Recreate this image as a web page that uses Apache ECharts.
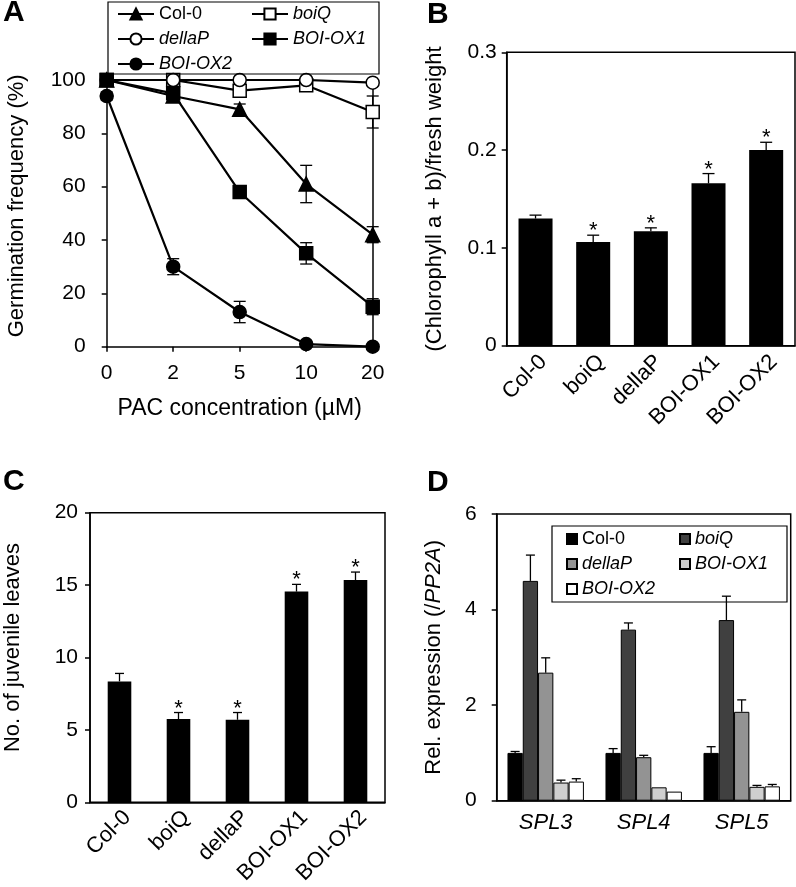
<!DOCTYPE html>
<html><head><meta charset="utf-8">
<script src="https://cdn.jsdelivr.net/npm/echarts@6/dist/echarts.min.js"></script>
<style>html,body{margin:0;padding:0;background:#fff}#c{width:796px;height:887px}</style>
</head><body><div id="c"></div>
<script>
const FONT = 'Liberation Sans, Arial, Helvetica, sans-serif';
// ---------- Panel A: germination ----------
const pacConc = ['0', '2', '5', '10', '20'];
const germCol0 = [100, 94, 89, 61, 42];
const germCol0Err = [0, 1.5, 2, 7, 3];
const germBoiQ = [100, 100, 96, 98, 88];
const germBoiQErr = [0, 0, 1.5, 1, 6];
const germDellaP = [100, 100, 100, 100, 99];
const germDellaPErr = [0, 0, 0, 0, 0];
const germOX1 = [100, 95, 58, 35, 15];
const germOX1Err = [0, 2, 2, 4, 3];
const germOX2 = [94, 30, 13, 1, 0];
const germOX2Err = [1.5, 3, 4, 0.5, 0];
// ---------- Panel B: chlorophyll ----------
const genotypes = ['Col-0', 'boiQ', 'dellaP', 'BOI-OX1', 'BOI-OX2'];
const chlValues = [0.130, 0.106, 0.117, 0.166, 0.200];
const chlErr = [0.0035, 0.007, 0.0035, 0.010, 0.008];
const chlSig = ['', '*', '*', '*', '*'];
// ---------- Panel C: juvenile leaves ----------
const leafValues = [8.35, 5.75, 5.7, 14.55, 15.35];
const leafErr = [0.55, 0.45, 0.5, 0.5, 0.55];
const leafSig = ['', '*', '*', '*', '*'];
// ---------- Panel D: expression ----------
const genes = ['SPL3', 'SPL4', 'SPL5'];
const exprCol0 = [1.0, 1.0, 1.0];
const exprCol0Err = [0.03, 0.09, 0.13];
const exprBoiQ = [4.6, 3.58, 3.78];
const exprBoiQErr = [0.54, 0.14, 0.5];
const exprDellaP = [2.68, 0.91, 1.86];
const exprDellaPErr = [0.31, 0.04, 0.25];
const exprOX1 = [0.38, 0.28, 0.29];
const exprOX1Err = [0.05, 0.01, 0.03];
const exprOX2 = [0.40, 0.19, 0.30];
const exprOX2Err = [0.06, 0, 0.04];

const italicNames = {'boiQ': 1, 'dellaP': 1, 'BOI-OX1': 1, 'BOI-OX2': 1};

function errTwoSided(vals, errs) {
  return vals.map((v, i) => errs[i] > 0 ? [i, Math.max(0, v - errs[i]), v + errs[i]] : null).filter(Boolean);
}
function errUp(vals, errs) {
  return vals.map((v, i) => [i, v, v + errs[i]]);
}
function renderTwoSided(cap) {
  return function (params, api) {
    const i = api.value(0);
    const p1 = api.coord([i, api.value(2)]);
    const p2 = api.coord([i, api.value(1)]);
    const s = {stroke: '#000', lineWidth: 1.3};
    return {type: 'group', children: [
      {type: 'line', shape: {x1: p1[0], y1: p1[1], x2: p2[0], y2: p2[1]}, style: s},
      {type: 'line', shape: {x1: p1[0] - cap, y1: p1[1], x2: p1[0] + cap, y2: p1[1]}, style: s},
      {type: 'line', shape: {x1: p2[0] - cap, y1: p2[1], x2: p2[0] + cap, y2: p2[1]}, style: s}
    ]};
  };
}
function renderUp(cap, sig, k, n, gap) {
  return function (params, api) {
    const i = api.value(0);
    const band = api.size([1, 0])[0];
    let x = api.coord([i, 0])[0];
    if (n) {
      const bw = band * (1 - gap) / n;
      x = x - band * (1 - gap) / 2 + bw * (k + 0.5);
    }
    const y0 = api.coord([i, api.value(1)])[1];
    const y1 = api.coord([i, api.value(2)])[1];
    const s = {stroke: '#000', lineWidth: 1.3};
    const children = [];
    if (Math.abs(y0 - y1) > 0.5) {
      children.push({type: 'line', shape: {x1: x, y1: y0, x2: x, y2: y1}, style: s});
      children.push({type: 'line', shape: {x1: x - cap, y1: y1, x2: x + cap, y2: y1}, style: s});
    }
    if (sig && sig[params.dataIndex]) {
      children.push({type: 'text', x: x, y: y1 + 7, style: {text: sig[params.dataIndex], fill: '#000',
        font: '22px ' + FONT, align: 'center', verticalAlign: 'bottom'}});
    }
    return {type: 'group', children: children};
  };
}

const lineSeries = [
  {name: 'Col-0', data: germCol0, symbol: 'triangle', fill: '#000', err: germCol0Err},
  {name: 'boiQ', data: germBoiQ, symbol: 'rect', fill: '#fff', err: germBoiQErr},
  {name: 'dellaP', data: germDellaP, symbol: 'circle', fill: '#fff', err: germDellaPErr},
  {name: 'BOI-OX1', data: germOX1, symbol: 'rect', fill: '#000', err: germOX1Err},
  {name: 'BOI-OX2', data: germOX2, symbol: 'circle', fill: '#000', err: germOX2Err}
];
const barSeriesD = [
  {name: 'Col-0', data: exprCol0, err: exprCol0Err, color: '#000000'},
  {name: 'boiQ', data: exprBoiQ, err: exprBoiQErr, color: '#404040'},
  {name: 'dellaP', data: exprDellaP, err: exprDellaPErr, color: '#939393'},
  {name: 'BOI-OX1', data: exprOX1, err: exprOX1Err, color: '#cfcfcf'},
  {name: 'BOI-OX2', data: exprOX2, err: exprOX2Err, color: '#ffffff'}
];

const axisLine = {show: true, lineStyle: {color: '#000', width: 1.5}};
const tickOut = {show: true, inside: false, length: 5, lineStyle: {color: '#000', width: 1.5}};
const labelStyle = {color: '#000', fontSize: 21, fontFamily: FONT};
const nameStyle = {color: '#000', fontSize: 22, fontFamily: FONT};

const series = [];
lineSeries.forEach(s => {
  series.push({type: 'custom', xAxisIndex: 0, yAxisIndex: 0, z: 1, silent: true,
    data: errTwoSided(s.data, s.err), encode: {x: 0, y: [1, 2]}, renderItem: renderTwoSided(6)});
});
lineSeries.forEach(s => {
  series.push({type: 'line', name: 'A:' + s.name, xAxisIndex: 0, yAxisIndex: 0, data: s.data, z: 3,
    symbol: s.symbol, symbolSize: s.symbol === 'triangle' ? 14 : 13, showAllSymbol: true,
    lineStyle: {color: '#000', width: 2.2},
    itemStyle: {color: s.fill, borderColor: '#000', borderWidth: 1.5}});
});
// B
series.push({type: 'bar', xAxisIndex: 1, yAxisIndex: 2, data: chlValues, barCategoryGap: '41%',
  itemStyle: {color: '#000'}, z: 2});
series.push({type: 'custom', xAxisIndex: 1, yAxisIndex: 2, z: 3, data: errUp(chlValues, chlErr),
  encode: {x: 0, y: [1, 2]}, renderItem: renderUp(6, chlSig)});
// C
series.push({type: 'bar', xAxisIndex: 2, yAxisIndex: 3, data: leafValues, barCategoryGap: '60%',
  itemStyle: {color: '#000'}, z: 2});
series.push({type: 'custom', xAxisIndex: 2, yAxisIndex: 3, z: 3, data: errUp(leafValues, leafErr),
  encode: {x: 0, y: [1, 2]}, renderItem: renderUp(4.5, leafSig)});
// D
barSeriesD.forEach((s, k) => {
  series.push({type: 'bar', name: 'D:' + s.name, xAxisIndex: 3, yAxisIndex: 4, data: s.data,
    barGap: '0%', barCategoryGap: '22%', z: 2,
    itemStyle: {color: s.color, borderColor: '#000', borderWidth: 1}});
});
barSeriesD.forEach((s, k) => {
  series.push({type: 'custom', xAxisIndex: 3, yAxisIndex: 4, z: 3, data: errUp(s.data, s.err),
    encode: {x: 0, y: [1, 2]}, renderItem: renderUp(4.5, null, k, barSeriesD.length, 0.22)});
});

function legendData(prefix) {
  return genotypes.map(g => italicNames[g] ? {name: prefix + g, textStyle: {fontStyle: 'italic'}} : {name: prefix + g});
}

const option = {
  animation: false,
  backgroundColor: '#fff',
  textStyle: {fontFamily: FONT},
  title: [
    {text: 'A', left: 3, top: -2, padding: 0, textStyle: {fontSize: 30, fontWeight: 'bold', color: '#000', fontFamily: FONT}},
    {text: 'B', left: 427, top: 0, padding: 0, textStyle: {fontSize: 30, fontWeight: 'bold', color: '#000', fontFamily: FONT}},
    {text: 'C', left: 3, top: 467, padding: 0, textStyle: {fontSize: 30, fontWeight: 'bold', color: '#000', fontFamily: FONT}},
    {text: 'D', left: 427, top: 468, padding: 0, textStyle: {fontSize: 30, fontWeight: 'bold', color: '#000', fontFamily: FONT}}
  ],
  legend: [
    {left: 108, top: 2, width: 300, padding: [3, 1, 1, 9], itemGap: 7, itemWidth: 36, itemHeight: 14,
      borderColor: '#000', borderWidth: 1.2, data: legendData('A:'), formatter: n => n.slice(2),
      textStyle: {color: '#000', fontSize: 18, fontFamily: FONT, width: 85, lineHeight: 16}},
    {left: 552, top: 526, width: 240, padding: [4, 2, 4, 14], itemGap: 7, itemWidth: 10, itemHeight: 10,
      icon: 'rect', borderColor: '#000', borderWidth: 1.2, data: legendData('D:'), formatter: n => n.slice(2),
      textStyle: {color: '#000', fontSize: 18, fontFamily: FONT, width: 90, lineHeight: 12}}
  ],
  grid: [
    {left: 106.7, top: 80, width: 266, height: 266.7, outerBoundsMode: 'none'},
    {left: 506.7, top: 52.3, width: 288.3, height: 293.4, show: true, borderColor: '#000', borderWidth: 1.5, outerBoundsMode: 'none'},
    {left: 90, top: 512.7, width: 295, height: 289.6, show: true, borderColor: '#000', borderWidth: 1.5, outerBoundsMode: 'none'},
    {left: 496.7, top: 514, width: 294, height: 286.7, show: true, borderColor: '#000', borderWidth: 1.5, outerBoundsMode: 'none'}
  ],
  xAxis: [
    {gridIndex: 0, type: 'category', data: pacConc, boundaryGap: false, axisLine: axisLine, axisTick: tickOut,
      axisLabel: Object.assign({margin: 16}, labelStyle), splitLine: {show: false},
      name: 'PAC concentration (µM)', nameLocation: 'middle', nameGap: 50,
      nameTextStyle: Object.assign({}, nameStyle, {fontSize: 23})},
    {gridIndex: 1, type: 'category', data: genotypes, axisLine: axisLine, axisTick: {show: false},
      axisLabel: Object.assign({margin: 5, rotate: 45, verticalAlign: 'top'}, labelStyle, {fontSize: 22})},
    {gridIndex: 2, type: 'category', data: genotypes, axisLine: axisLine, axisTick: {show: false},
      axisLabel: Object.assign({margin: 4, rotate: 45, verticalAlign: 'top'}, labelStyle, {fontSize: 22})},
    {gridIndex: 3, type: 'category', data: genes, axisLine: axisLine, axisTick: {show: false},
      axisLabel: Object.assign({margin: 11, fontStyle: 'italic'}, labelStyle, {fontSize: 22})}
  ],
  yAxis: [
    {gridIndex: 0, type: 'value', min: 0, max: 100, interval: 20, axisLine: axisLine, axisTick: tickOut,
      axisLabel: Object.assign({margin: 21}, labelStyle), splitLine: {show: false},
      name: 'Germination frequency (%)', nameLocation: 'middle', nameGap: 79,
      nameTextStyle: Object.assign({padding: [0, 0, 0, 15]}, nameStyle)},
    {gridIndex: 0, type: 'value', position: 'right', min: 0, max: 100, axisLine: axisLine,
      axisTick: {show: false}, axisLabel: {show: false}, splitLine: {show: false}},
    {gridIndex: 1, type: 'value', min: 0, max: 0.3, interval: 0.1, axisLine: axisLine, axisTick: tickOut,
      axisLabel: Object.assign({margin: 10}, labelStyle), splitLine: {show: false},
      name: '(Chlorophyll a + b)/fresh weight', nameLocation: 'middle', nameGap: 61, nameTextStyle: nameStyle},
    {gridIndex: 2, type: 'value', min: 0, max: 20, interval: 5, axisLine: axisLine, axisTick: tickOut,
      axisLabel: Object.assign({margin: 12}, labelStyle), splitLine: {show: false},
      name: 'No. of juvenile leaves', nameLocation: 'middle', nameGap: 66,
      nameTextStyle: Object.assign({padding: [0, 0, 0, 20]}, nameStyle)},
    {gridIndex: 3, type: 'value', min: 0, max: 6, interval: 2, axisLine: axisLine, axisTick: tickOut,
      axisLabel: Object.assign({margin: 20}, labelStyle), splitLine: {show: false},
      name: 'Rel. expression (/{i|PP2A})', nameLocation: 'middle', nameGap: 52,
      nameTextStyle: Object.assign({rich: {i: {fontStyle: 'italic', fontSize: 22, fontFamily: FONT, color: '#000'}}}, nameStyle)}
  ],
  series: series
};
const chart = echarts.init(document.getElementById('c'), null, {renderer: 'canvas'});
chart.setOption(option);
</script></body></html>
